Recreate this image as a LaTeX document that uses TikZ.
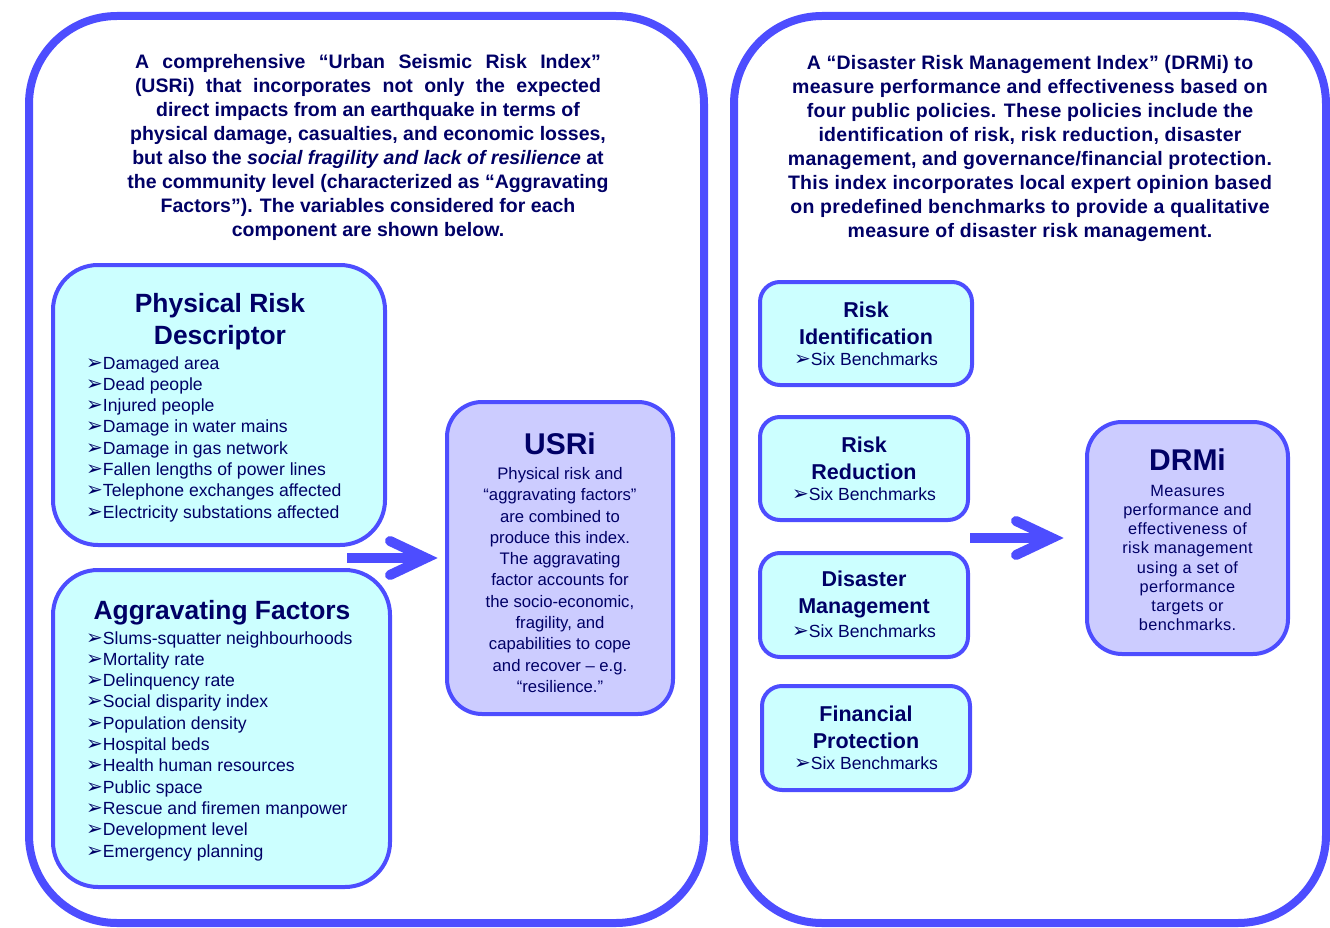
\documentclass[tikz,border=0pt]{standalone}
\usepackage{fontspec}
\setmainfont{Liberation Sans}
\newfontfamily\dejavu{DejaVu Sans}
\usetikzlibrary{positioning}

\definecolor{rimblue}{HTML}{4D4DFF}
\definecolor{navytext}{HTML}{000066}
\definecolor{cyanfill}{HTML}{CCFFFF}
\definecolor{lavfill}{HTML}{CCCCFF}

\newcommand{\arr}{{\dejavu\fontsize{20}{12}\selectfont ➢}}

\tikzstyle{frame} = [rectangle,
			draw=rimblue,
			line width=8pt,
			rounded corners=88pt]
\tikzstyle{cbox} = [rectangle,
			draw=rimblue,
			fill=cyanfill,
			line width=4pt]
\tikzstyle{lbox} = [rectangle,
			draw=rimblue,
			fill=lavfill,
			line width=4pt]
\tikzstyle{intro} = [text=navytext, align=center, inner sep=0pt,
			font=\bfseries\fontsize{19.5}{24}\selectfont]
\tikzstyle{head} = [text=navytext, align=center, inner sep=0pt,
			font=\bfseries\fontsize{26.4}{32}\selectfont]
\tikzstyle{shead} = [text=navytext, align=center, inner sep=0pt,
			font=\bfseries\fontsize{21.5}{27}\selectfont]
\tikzstyle{items} = [text=navytext, align=left, inner sep=0pt,
			font=\fontsize{17.6}{21.3}\selectfont]
\tikzstyle{body} = [text=navytext, align=center, inner sep=0pt,
			font=\fontsize{16.7}{21.3}\selectfont]
\tikzstyle{fat} = [draw=rimblue, line width=10pt]
\tikzstyle{chev} = [draw=rimblue, line width=10pt, line cap=round, line join=miter]

\begin{document}
\begin{tikzpicture}[x=1pt, y=-1pt]
	\useasboundingbox (0,0) rectangle (1330,928);
	% the two panels
	\node [frame, minimum width=675pt, minimum height=907pt] (lframe) at (366.5,469.5) {};
	\node [frame, minimum width=592pt, minimum height=907pt] (rframe) at (1030,469.5) {};
	\node [intro] (lintro) at (368,147) {\makebox[466pt][s]{A comprehensive “Urban Seismic Risk Index”}\\
		\makebox[466pt][s]{(USRi) that incorporates not only the expected}\\
		direct impacts from an earthquake in terms of\\
		physical damage, casualties, and economic losses,\\
		but also the {\itshape social fragility and lack of resilience} at\\
		the community level (characterized as “Aggravating\\
		Factors”). The variables considered for each\\
		component are shown below.};
	\node [intro, font=\bfseries\fontsize{19.5}{24}\selectfont\addfontfeatures{LetterSpace=1.5}] (rintro) at (1030,149) {A “Disaster Risk Management Index” (DRMi) to\\
		measure performance and effectiveness based on\\
		four public policies. These policies include the\\
		identification of risk, risk reduction, disaster\\
		management, and governance/financial protection.\\
		This index incorporates local expert opinion based\\
		on predefined benchmarks to provide a qualitative\\
		measure of disaster risk management.};

	% USRi side
	\node [cbox, rounded corners=45pt, minimum width=332pt, minimum height=280pt] (phys) at (219,405) {};
	\node [head] (physT) at (220,322) {Physical Risk\\Descriptor};
	\node [items, anchor=west] (physL) at (86,439) {\arr Damaged area\\
		\arr Dead people\\
		\arr Injured people\\
		\arr Damage in water mains\\
		\arr Damage in gas network\\
		\arr Fallen lengths of power lines\\
		\arr Telephone exchanges affected\\
		\arr Electricity substations affected};
	\node [cbox, rounded corners=45pt, minimum width=337pt, minimum height=317pt] (aggr) at (221.5,728.5) {};
	\node [head] (aggrT) at (222,613) {Aggravating Factors};
	\node [items, anchor=west] (aggrL) at (86,746) {\arr Slums-squatter neighbourhoods\\
		\arr Mortality rate\\
		\arr Delinquency rate\\
		\arr Social disparity index\\
		\arr Population density\\
		\arr Hospital beds\\
		\arr Health human resources\\
		\arr Public space\\
		\arr Rescue and firemen manpower\\
		\arr Development level\\
		\arr Emergency planning};
	\node [lbox, rounded corners=35pt, minimum width=226pt, minimum height=312pt] (usri) at (560,558) {};
	\node [head, font=\bfseries\fontsize{30}{32}\selectfont] (usriT) at (560,444) {USRi};
	\node [body] (usriB) at (560,580) {Physical risk and\\
		“aggravating factors”\\
		are combined to\\
		produce this index.\\
		The aggravating\\
		factor accounts for\\
		the socio-economic,\\
		fragility, and\\
		capabilities to cope\\
		and recover -- e.g.\\
		“resilience.”};
	\coordinate (lgap) at (347,558);
	\coordinate [left=19pt of usri.west] (ltip);
	\draw [fat, shorten >=19pt] (lgap) -- (usri.west);
	\draw [chev] (ltip) ++(-36,-17) -- (ltip) -- ++(-36,17);

	% DRMi side
	\node [cbox, rounded corners=20pt, minimum width=212pt, minimum height=103pt] (rid) at (866,333.5) {};
	\node [shead] (ridT) at (866,323.5) {Risk\\Identification};
	\node [items, below=7pt of ridT] (ridB) {\arr Six Benchmarks};
	\node [cbox, rounded corners=20pt, minimum width=208pt, minimum height=103pt] (rred) at (864,468.5) {};
	\node [shead] (rredT) at (864,458.5) {Risk\\Reduction};
	\node [items, below=7pt of rredT] (rredB) {\arr Six Benchmarks};
	\node [cbox, rounded corners=20pt, minimum width=208pt, minimum height=104pt] (dman) at (864,605) {};
	\node [shead] (dmanT) at (864,594) {Disaster\\Management};
	\node [items, below=7pt of dmanT] (dmanB) {\arr Six Benchmarks};
	\node [cbox, rounded corners=20pt, minimum width=208pt, minimum height=104pt] (fprot) at (866,738) {};
	\node [shead] (fprotT) at (866,727.5) {Financial\\Protection};
	\node [items, below=7pt of fprotT] (fprotB) {\arr Six Benchmarks};
	\node [lbox, rounded corners=35pt, minimum width=201pt, minimum height=232pt] (drmi) at (1187.5,538) {};
	\node [head, font=\bfseries\fontsize{30}{32}\selectfont] (drmiT) at (1187.5,460) {DRMi};
	\node [body, font=\fontsize{16.3}{19.2}\selectfont\addfontfeatures{LetterSpace=2.5}] (drmiB) at (1187.5,558) {Measures\\
		performance and\\
		effectiveness of\\
		risk management\\
		using a set of\\
		performance\\
		targets or\\
		benchmarks.};
	\coordinate (rgap) at (970,538);
	\coordinate [left=33pt of drmi.west] (rtip);
	\draw [fat, shorten >=33pt] (rgap) -- (drmi.west);
	\draw [chev] (rtip) ++(-36,-17) -- (rtip) -- ++(-36,17);
\end{tikzpicture}
\end{document}
